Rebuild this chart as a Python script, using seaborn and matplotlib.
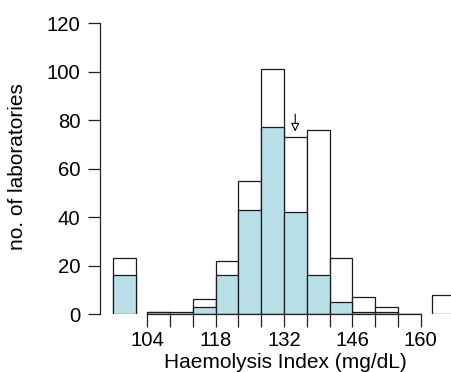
import numpy as np
import pandas as pd
import seaborn as sns
import matplotlib
matplotlib.use("Agg")
import matplotlib.pyplot as plt

# ---- data ----
bin_edges = [104, 108.667, 113.333, 118, 122.667, 127.333, 132,
             136.667, 141.333, 146, 150.667, 155.333, 160]
total_counts = [1, 1, 6, 22, 55, 101, 73, 76, 23, 7, 3, 0]
subset_counts = [1, 0, 3, 16, 43, 77, 42, 16, 5, 1, 1, 0]
low_outlier_edges = [97.0, 101.667]
low_outlier_total = [23]
low_outlier_subset = [16]
high_outlier_edges = [162.333, 167.0]
high_outlier_total = [8]
high_outlier_subset = [0]
tick_labels = ["104", "118", "132", "146", "160"]
target_value = 134.3
arrow_top, arrow_tip = 82.5, 75.3

sns.set_style("ticks")
plt.rcParams["font.family"] = ["Liberation Sans", "DejaVu Sans"]
plt.rcParams["text.color"] = "black"

W, H = 451, 372
fig = plt.figure(figsize=(W / 100, H / 100), dpi=100)
ax_l, ax_r, ax_b, ax_t = 100, 451, 314, 23.3
ax = fig.add_axes([ax_l / W, 1 - ax_b / H, (ax_r - ax_l) / W, (ax_b - ax_t) / H])

fill_blue = "#B8DEE7"
edge = "#1a1a1a"
lw = 0.9


def centers(edges):
    e = np.asarray(edges)
    return (e[:-1] + e[1:]) / 2


def draw(edges, counts, color):
    df = pd.DataFrame({"x": centers(edges), "w": counts})
    sns.histplot(data=df, x="x", weights="w", bins=edges, ax=ax,
                 stat="count", element="bars", fill=True, color=color,
                 edgecolor=edge, linewidth=lw, alpha=1)


for edges, tot, sub in [(bin_edges, total_counts, subset_counts),
                        (low_outlier_edges, low_outlier_total, low_outlier_subset),
                        (high_outlier_edges, high_outlier_total, high_outlier_subset)]:
    draw(edges, tot, "white")
    if sum(sub) > 0:
        draw(edges, sub, fill_blue)

# arrow marking the target value
ax.annotate("", xy=(target_value, arrow_tip), xytext=(target_value, arrow_top),
            arrowprops=dict(arrowstyle="-|>,head_length=0.5,head_width=0.25",
                            fc="white", ec="black", lw=0.8,
                            shrinkA=0, shrinkB=0, mutation_scale=10))

# axes limits matching pixel layout
px_per_unit = (420.67 - 147.33) / 56
ax.set_xlim(104 - (147.33 - ax_l) / px_per_unit, 160 + (ax_r - 420.67) / px_per_unit)
ax.set_ylim(0, 120)

ax.set_xticks(bin_edges)
labels = []
for e in bin_edges:
    s = str(int(round(e)))
    labels.append(s if (s in tick_labels and abs(e - round(e)) < 1e-6) else "")
ax.set_xticklabels(labels)
ax.set_yticks(np.arange(0, 121, 20))

for s in ["top", "right"]:
    ax.spines[s].set_visible(False)
ax.spines["left"].set_bounds(0, 120)
ax.spines["bottom"].set_bounds(104, 160)
for s in ["left", "bottom"]:
    ax.spines[s].set_linewidth(0.9)
    ax.spines[s].set_color("#222222")

fs_tick = 14.6
fs_lab = 15
ax.tick_params(axis="both", direction="out", length=9, width=0.9,
               colors="#222222", labelcolor="black", labelsize=fs_tick)
ax.tick_params(axis="x", pad=3.5)
ax.tick_params(axis="y", pad=5)
ax.set_xlabel("")
ax.set_ylabel("")

fig.text(285 / W, 1 - 353.5 / H, "Haemolysis Index (mg/dL)", ha="center", va="top",
         fontsize=fs_lab, color="black")
fig.text(18 / W, 1 - 167 / H, "no. of laboratories", rotation=90,
         ha="center", va="center", fontsize=fs_lab, color="black")

fig.savefig("out.png", dpi=100)
